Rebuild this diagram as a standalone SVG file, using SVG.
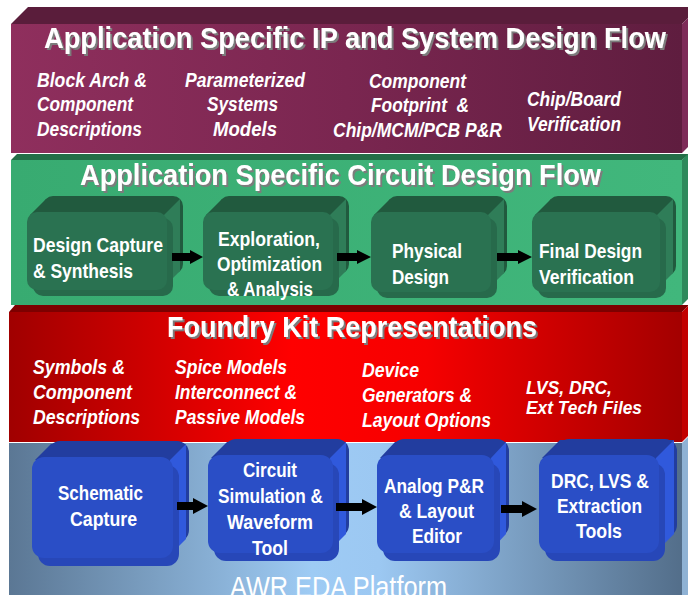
<svg xmlns="http://www.w3.org/2000/svg" width="688" height="595" viewBox="0 0 688 595">
  <defs>
    <linearGradient id="gPurple" x1="0" y1="0" x2="1" y2="0">
      <stop offset="0" stop-color="#8f2f5d"/>
      <stop offset="0.5" stop-color="#7a2650"/>
      <stop offset="1" stop-color="#5f1d3f"/>
    </linearGradient>
    <linearGradient id="gGreen" x1="0" y1="0" x2="1" y2="0">
      <stop offset="0" stop-color="#38ab71"/>
      <stop offset="1" stop-color="#41b77c"/>
    </linearGradient>
    <linearGradient id="gRed" x1="0" y1="0" x2="1" y2="0">
      <stop offset="0" stop-color="#a00000"/>
      <stop offset="0.42" stop-color="#ff0000"/>
      <stop offset="0.62" stop-color="#f60000"/>
      <stop offset="1" stop-color="#a30000"/>
    </linearGradient>
    <linearGradient id="gBlue" x1="0" y1="0" x2="1" y2="0">
      <stop offset="0" stop-color="#5b7794"/>
      <stop offset="0.45" stop-color="#9ecbf4"/>
      <stop offset="0.55" stop-color="#9cc8f2"/>
      <stop offset="1" stop-color="#536e8a"/>
    </linearGradient>
    <!-- grey drop shadow under the layer titles -->
    <filter id="titleShadow" x="-5%" y="-30%" width="110%" height="160%">
      <feDropShadow dx="2" dy="2" stdDeviation="0.6" flood-color="#7c7c7c" flood-opacity="1"/>
    </filter>
  </defs>
  <style>
    text { fill: #ffffff; font-family: "Liberation Sans Narrow", "Liberation Sans", Arial, sans-serif; }
    .title { font-size: 30px; font-weight: bold; filter: url(#titleShadow); }
    .item { font-size: 21px; font-style: italic; font-weight: bold; }
    .tight { font-size: 19px; }
    .box { font-size: 21px; font-weight: bold; }
    .platform { font-size: 30px; fill: #ffffff; }
    .gTop { fill: #215a3e; }
    .gSide { fill: #2f7d58; }
    .gShadow { fill: #276a4b; }
    .gFront { fill: #2a7251; }
    .bTop { fill: #223d9f; }
    .bSide { fill: #3059dc; }
    .bShadow { fill: #2747b8; }
    .bFront { fill: #2a4ec6; }
    .arrow { fill: #000000; }
  </style>

  <!-- Layer 1: IP and system design flow -->
  <g id="layer-ip">
    <polygon points="11,24 28,7 688,7 688,18 682,24" fill="#5a1d3b"/>
    <rect x="11" y="24" width="671" height="129" fill="url(#gPurple)"/>
    <polygon points="682,24 688,18 688,147 682,153" fill="#7e2b58"/>
    <text class="title" x="44" y="48" textLength="622" lengthAdjust="spacingAndGlyphs">Application Specific IP and System Design Flow</text>
    <text class="item" x="37" y="87" textLength="110" lengthAdjust="spacingAndGlyphs">Block Arch &amp;</text>
    <text class="item" x="37" y="111" textLength="96" lengthAdjust="spacingAndGlyphs">Component</text>
    <text class="item" x="37" y="136" textLength="105" lengthAdjust="spacingAndGlyphs">Descriptions</text>
    <text class="item" x="185" y="87" textLength="120" lengthAdjust="spacingAndGlyphs">Parameterized</text>
    <text class="item" x="207" y="111" textLength="71" lengthAdjust="spacingAndGlyphs">Systems</text>
    <text class="item" x="213" y="136" textLength="64" lengthAdjust="spacingAndGlyphs">Models</text>
    <text class="item" x="369" y="88" textLength="97" lengthAdjust="spacingAndGlyphs">Component</text>
    <text class="item" x="371" y="112" textLength="98" lengthAdjust="spacingAndGlyphs" xml:space="preserve">Footprint  &amp;</text>
    <text class="item" x="333" y="137" textLength="169" lengthAdjust="spacingAndGlyphs">Chip/MCM/PCB P&amp;R</text>
    <text class="item" x="527" y="106" textLength="94" lengthAdjust="spacingAndGlyphs">Chip/Board</text>
    <text class="item" x="527" y="131" textLength="94" lengthAdjust="spacingAndGlyphs">Verification</text>
  </g>

  <!-- Layer 2: circuit design flow -->
  <g id="layer-circuit">
    <polygon points="11,160 17,154 688,154 688,155 682,160" fill="#236e47"/>
    <rect x="11" y="160" width="671" height="145" fill="url(#gGreen)"/>
    <polygon points="682,160 688,154 688,299 682,305" fill="#2e8a5c"/>
    <text class="title" x="80" y="185" textLength="521" lengthAdjust="spacingAndGlyphs">Application Specific Circuit Design Flow</text>
  </g>

  <g id="node-design-capture">
    <rect class="gTop" x="43" y="196" width="140" height="78" rx="10"/>
    <polygon class="gTop" points="30,215 46,199 180,199 164,215"/>
    <polygon class="gSide" points="164,215 180,199 180,271 164,287"/>
    <rect class="gShadow" x="33" y="218" width="140" height="78" rx="10"/>
    <rect class="gFront" x="27" y="212" width="140" height="78" rx="10"/>
    <text class="box" x="33" y="252" textLength="130" lengthAdjust="spacingAndGlyphs">Design Capture</text>
    <text class="box" x="33" y="278" textLength="100" lengthAdjust="spacingAndGlyphs">&amp; Synthesis</text>
  </g>
  <g id="node-exploration">
    <rect class="gTop" x="219" y="196" width="130" height="78" rx="10"/>
    <polygon class="gTop" points="206,215 222,199 346,199 330,215"/>
    <polygon class="gSide" points="330,215 346,199 346,271 330,287"/>
    <rect class="gShadow" x="209" y="218" width="130" height="78" rx="10"/>
    <rect class="gFront" x="203" y="212" width="130" height="78" rx="10"/>
    <text class="box" x="218" y="246" textLength="102" lengthAdjust="spacingAndGlyphs">Exploration,</text>
    <text class="box" x="217" y="271" textLength="105" lengthAdjust="spacingAndGlyphs">Optimization</text>
    <text class="box" x="227" y="296" textLength="86" lengthAdjust="spacingAndGlyphs">&amp; Analysis</text>
  </g>
  <g id="node-physical-design">
    <rect class="gTop" x="387" y="196" width="120" height="80" rx="10"/>
    <polygon class="gTop" points="374,215 390,199 504,199 488,215"/>
    <polygon class="gSide" points="488,215 504,199 504,273 488,289"/>
    <rect class="gShadow" x="377" y="218" width="120" height="80" rx="10"/>
    <rect class="gFront" x="371" y="212" width="120" height="80" rx="10"/>
    <text class="box" x="392" y="258" textLength="70" lengthAdjust="spacingAndGlyphs">Physical</text>
    <text class="box" x="392" y="284" textLength="57" lengthAdjust="spacingAndGlyphs">Design</text>
  </g>
  <g id="node-final-verification">
    <rect class="gTop" x="548" y="196" width="128" height="80" rx="10"/>
    <polygon class="gTop" points="535,215 551,199 673,199 657,215"/>
    <polygon class="gSide" points="657,215 673,199 673,273 657,289"/>
    <rect class="gShadow" x="538" y="218" width="128" height="80" rx="10"/>
    <rect class="gFront" x="532" y="212" width="128" height="80" rx="10"/>
    <text class="box" x="539" y="258" textLength="103" lengthAdjust="spacingAndGlyphs">Final Design</text>
    <text class="box" x="539" y="284" textLength="95" lengthAdjust="spacingAndGlyphs">Verification</text>
  </g>

  <!-- Layer 3: foundry kit -->
  <g id="layer-foundry">
    <polygon points="9,312 15,305 688,305 688,306 682,312" fill="#7d0000"/>
    <rect x="9" y="312" width="673" height="130" fill="url(#gRed)"/>
    <polygon points="682,312 688,306 688,436 682,442" fill="#c20000"/>
    <text class="title" x="167" y="337" textLength="370" lengthAdjust="spacingAndGlyphs">Foundry Kit Representations</text>
    <text class="item" x="33" y="374" textLength="92" lengthAdjust="spacingAndGlyphs">Symbols &amp;</text>
    <text class="item" x="33" y="399" textLength="99" lengthAdjust="spacingAndGlyphs">Component</text>
    <text class="item" x="33" y="424" textLength="107" lengthAdjust="spacingAndGlyphs">Descriptions</text>
    <text class="item" x="175" y="374" textLength="112" lengthAdjust="spacingAndGlyphs">Spice Models</text>
    <text class="item" x="175" y="399" textLength="122" lengthAdjust="spacingAndGlyphs">Interconnect &amp;</text>
    <text class="item" x="175" y="424" textLength="130" lengthAdjust="spacingAndGlyphs">Passive Models</text>
    <text class="item" x="362" y="377" textLength="57" lengthAdjust="spacingAndGlyphs">Device</text>
    <text class="item" x="362" y="402" textLength="110" lengthAdjust="spacingAndGlyphs">Generators &amp;</text>
    <text class="item" x="362" y="427" textLength="129" lengthAdjust="spacingAndGlyphs">Layout Options</text>
    <text class="item tight" x="526" y="394" textLength="86" lengthAdjust="spacingAndGlyphs">LVS, DRC,</text>
    <text class="item tight" x="526" y="414" textLength="116" lengthAdjust="spacingAndGlyphs">Ext Tech Files</text>
  </g>

  <!-- Layer 4: EDA platform -->
  <g id="layer-platform">
    <rect x="9" y="443" width="673" height="152" fill="url(#gBlue)"/>
    <polygon points="682,443 688,437 688,595 682,595" fill="#8fb2d4"/>
    <text class="platform" x="230" y="597" textLength="217" lengthAdjust="spacingAndGlyphs">AWR EDA Platform</text>
  </g>

  <g id="node-schematic">
    <rect class="bTop" x="48" y="441" width="141" height="101" rx="12"/>
    <polygon class="bTop" points="35,460 51,444 186,444 170,460"/>
    <polygon class="bSide" points="170,460 186,444 186,539 170,555"/>
    <rect class="bShadow" x="38" y="465" width="141" height="101" rx="12"/>
    <rect class="bFront" x="32" y="457" width="141" height="101" rx="12"/>
    <text class="box" x="58" y="500" textLength="85" lengthAdjust="spacingAndGlyphs">Schematic</text>
    <text class="box" x="70" y="526" textLength="67" lengthAdjust="spacingAndGlyphs">Capture</text>
  </g>
  <g id="node-simulation">
    <rect class="bTop" x="224" y="439" width="125" height="98" rx="12"/>
    <polygon class="bTop" points="211,458 227,442 346,442 330,458"/>
    <polygon class="bSide" points="330,458 346,442 346,534 330,550"/>
    <rect class="bShadow" x="214" y="463" width="125" height="98" rx="12"/>
    <rect class="bFront" x="208" y="455" width="125" height="98" rx="12"/>
    <text class="box" x="243" y="477" textLength="54" lengthAdjust="spacingAndGlyphs">Circuit</text>
    <text class="box" x="218" y="503" textLength="105" lengthAdjust="spacingAndGlyphs">Simulation &amp;</text>
    <text class="box" x="227" y="529" textLength="86" lengthAdjust="spacingAndGlyphs">Waveform</text>
    <text class="box" x="252" y="555" textLength="36" lengthAdjust="spacingAndGlyphs">Tool</text>
  </g>
  <g id="node-analog-pr">
    <rect class="bTop" x="392" y="439" width="117" height="98" rx="12"/>
    <polygon class="bTop" points="380,458 395,442 506,442 491,458"/>
    <polygon class="bSide" points="491,458 506,442 506,534 491,550"/>
    <rect class="bShadow" x="383" y="463" width="117" height="98" rx="12"/>
    <rect class="bFront" x="377" y="455" width="117" height="98" rx="12"/>
    <text class="box" x="384" y="493" textLength="100" lengthAdjust="spacingAndGlyphs">Analog P&amp;R</text>
    <text class="box" x="399" y="518" textLength="75" lengthAdjust="spacingAndGlyphs">&amp; Layout</text>
    <text class="box" x="412" y="543" textLength="50" lengthAdjust="spacingAndGlyphs">Editor</text>
  </g>
  <g id="node-drc-lvs">
    <rect class="bTop" x="557" y="439" width="120" height="98" rx="12"/>
    <polygon class="bTop" points="542,458 560,440 674,440 656,458"/>
    <polygon class="bSide" points="656,458 674,440 674,534 656,552"/>
    <rect class="bShadow" x="545" y="463" width="120" height="98" rx="12"/>
    <rect class="bFront" x="539" y="455" width="120" height="98" rx="12"/>
    <text class="box" x="551" y="488" textLength="98" lengthAdjust="spacingAndGlyphs">DRC, LVS &amp;</text>
    <text class="box" x="557" y="513" textLength="85" lengthAdjust="spacingAndGlyphs">Extraction</text>
    <text class="box" x="576" y="538" textLength="46" lengthAdjust="spacingAndGlyphs">Tools</text>
  </g>

  <!-- Block arrows between the steps -->
  <g id="connectors">
    <polygon class="arrow" points="172,253 190,253 190,250 203,257 190,264 190,261 172,261"/>
    <polygon class="arrow" points="337,253 357,253 357,250 371,257 357,264 357,261 337,261"/>
    <polygon class="arrow" points="497,253 518,253 518,250 532,257 518,264 518,261 497,261"/>
    <polygon class="arrow" points="177,502 193,502 193,498 208,506 193,514 193,510 177,510"/>
    <polygon class="arrow" points="336,503 362,503 362,499 377,507 362,515 362,511 336,511"/>
    <polygon class="arrow" points="501,505 522,505 522,501 537,509 522,517 522,513 501,513"/>
  </g>
</svg>
